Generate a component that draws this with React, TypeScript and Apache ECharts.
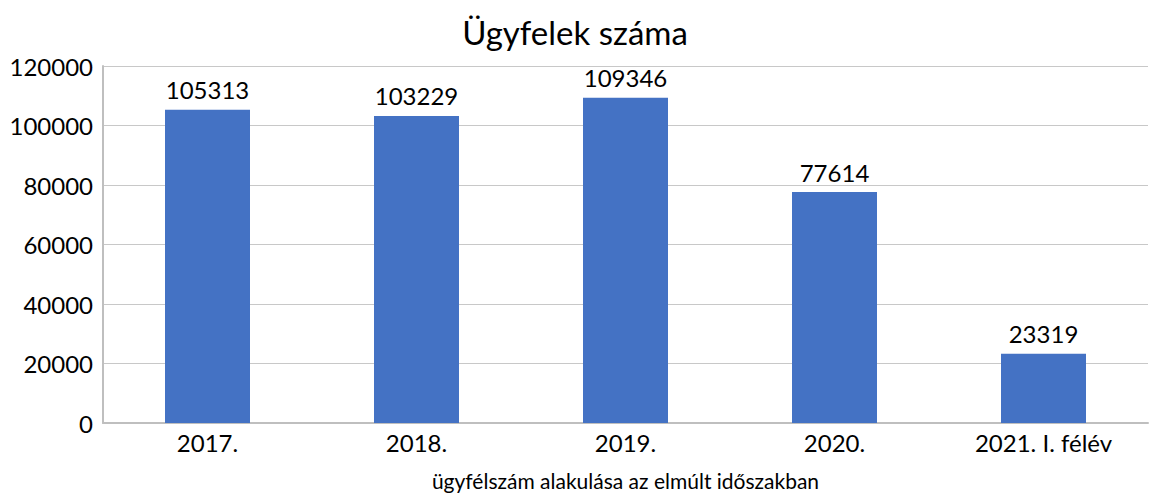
import React, { useEffect, useRef } from "react";
import * as echarts from "echarts";

const categories = ["2017.", "2018.", "2019.", "2020.", "2021. I. félév"];
const values = [105313, 103229, 109346, 77614, 23319];
const titleText = "Ügyfelek száma";
const xAxisName = "ügyfélszám alakulása az elmúlt időszakban";

const FONT = "Lato, 'Open Sans', sans-serif";

export default function App() {
  const ref = useRef<HTMLDivElement>(null);
  useEffect(() => {
    document.body.style.margin = "0";
    const chart = echarts.init(ref.current!, null, { renderer: "svg" });
    chart.setOption({
      animation: false,
      backgroundColor: "#ffffff",
      title: {
        text: titleText,
        left: "center",
        top: 10,
        textStyle: { fontFamily: FONT, fontSize: 33, fontWeight: "normal", color: "#000" },
      },
      grid: { left: 103, right: 2, top: 66, bottom: 75, containLabel: false, outerBoundsMode: "none" },
      xAxis: {
        type: "category",
        data: categories,
        name: xAxisName,
        nameLocation: "middle",
        nameGap: 47,
        nameTextStyle: { fontFamily: FONT, fontSize: 21, color: "#000" },
        axisLine: { show: true, lineStyle: { color: "#bfbfbf", width: 2 } },
        axisTick: { show: false },
        axisLabel: { fontFamily: FONT, fontSize: 24, color: "#000", margin: 7 },
      },
      yAxis: {
        type: "value",
        min: 0,
        max: 120000,
        interval: 20000,
        axisLine: { show: true, lineStyle: { color: "#bfbfbf", width: 2 } },
        axisTick: { show: false },
        splitLine: { lineStyle: { color: "#c8c8c8", width: 1 } },
        axisLabel: {
          fontFamily: FONT,
          fontSize: 24,
          color: "#000",
          margin: 10,
          formatter: (v: number) => String(v),
        },
      },
      series: [
        {
          type: "bar",
          data: values,
          barWidth: 85,
          itemStyle: { color: "#4472C4" },
          label: {
            show: true,
            position: "top",
            distance: 8,
            fontFamily: FONT,
            fontSize: 24,
            color: "#000",
          },
        },
      ],
    });
    return () => chart.dispose();
  }, []);
  return <div ref={ref} style={{ width: 1150, height: 498 }} />;
}
